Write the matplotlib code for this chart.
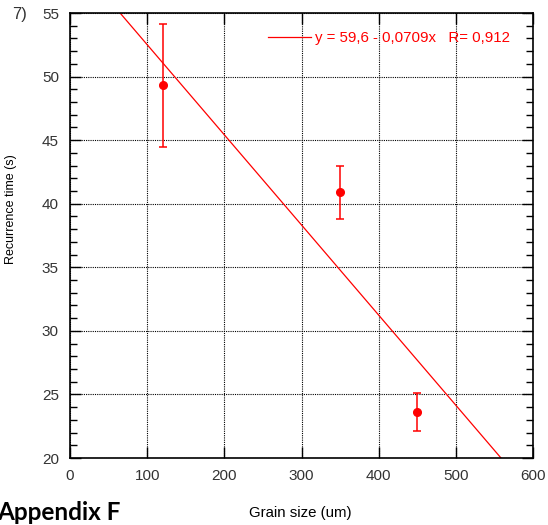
import numpy as np
import matplotlib
matplotlib.use("Agg")
import matplotlib.pyplot as plt
from matplotlib.ticker import MultipleLocator

# ------------------------------------------------------------
# 数据
# ------------------------------------------------------------
grain_size = [120, 350, 450]
recurrence = [49.3, 40.9, 23.6]
err = [4.85, 2.1, 1.5]

# 拟合直线 y = a + b x
fit_a = 59.6
fit_b = -0.0709
fit_label = "y = 59,6 - 0,0709x   R= 0,912"

plt.rcParams["font.family"] = ["Liberation Sans", "DejaVu Sans"]

W, H = 548, 525
fig = plt.figure(figsize=(W / 100, H / 100), dpi=100)
ax = fig.add_axes([70 / W, 1 - 458 / H, 463 / W, 445 / H])

# 拟合线
xs = np.linspace(0, 600, 200)
ax.plot(xs, fit_a + fit_b * xs, color="red", lw=0.9, label=fit_label)

# 数据点 + 误差棒
ax.errorbar(grain_size, recurrence, yerr=err, fmt="o", color="red",
            ms=5.5, elinewidth=1.1, capsize=3, capthick=1.1)

ax.set_xlim(0, 600)
ax.set_ylim(20, 55)
ax.xaxis.set_major_locator(MultipleLocator(100))
ax.yaxis.set_major_locator(MultipleLocator(5))
ax.yaxis.set_minor_locator(MultipleLocator(1))

ax.grid(True, which="major", color="black", linestyle=(0, (1, 1)), lw=0.8)
ax.tick_params(which="both", direction="in", top=True, right=True,
               labelsize=11, labelcolor="#333333")
ax.tick_params(axis="y", pad=8)
ax.tick_params(axis="x", pad=8)
ax.tick_params(which="major", length=8, width=1)
ax.tick_params(which="minor", length=5, width=1)
for s in ax.spines.values():
    s.set_linewidth(1.2)

ax.set_ylabel("Recurrence time (s)", fontsize=9)
ax.yaxis.set_label_coords(-0.114, 0.56)

leg = ax.legend(loc="upper right", frameon=False, fontsize=10.8,
                handlelength=2.9, handletextpad=0.25,
                borderpad=0, borderaxespad=0,
                bbox_to_anchor=(510 / W, 1 - 31 / H),
                bbox_transform=fig.transFigure)
for t in leg.get_texts():
    t.set_color("red")

# 其他文字
fig.text(12 / W, 1 - 15 / H, "7)", fontsize=12, color="#333333",
         va="center", ha="left")
fig.text(300 / W, 1 - 513 / H, "Grain size (um)", fontsize=10.8,
         ha="center", va="center")
fig.text(-3 / W, 1 - 520 / H, "Appendix F", fontsize=17.5, fontweight="bold",
         family=["Lato", "DejaVu Sans"], ha="left", va="baseline")

fig.savefig("out.png", dpi=100)
